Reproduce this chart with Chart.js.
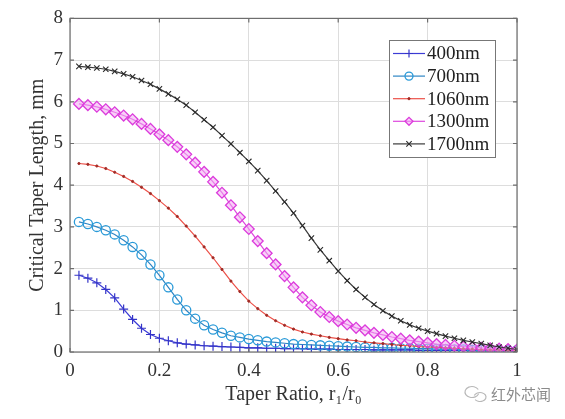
<!DOCTYPE html>
<html>
<head>
<meta charset="utf-8">
<script src="https://cdn.jsdelivr.net/npm/chart.js@4"></script>
<style>
    html, body { margin: 0; padding: 0; background: #fff; }
    #wrap { width: 565px; height: 419px; }
</style>
</head>
<body>
<div id="wrap"><canvas id="chart" width="565" height="419"></canvas></div>
<script>
// Taper ratio r1/r0 (x positions of the markers)
const taperRatio = [
    0.02, 0.04, 0.06, 0.08, 0.10, 0.12, 0.14, 0.16, 0.18, 0.20,
    0.22, 0.24, 0.26, 0.28, 0.30, 0.32, 0.34, 0.36, 0.38, 0.40,
    0.42, 0.44, 0.46, 0.48, 0.50, 0.52, 0.54, 0.56, 0.58, 0.60,
    0.62, 0.64, 0.66, 0.68, 0.70, 0.72, 0.74, 0.76, 0.78, 0.80,
    0.82, 0.84, 0.86, 0.88, 0.90, 0.92, 0.94, 0.96, 0.98, 1.00
];

// Critical taper length, mm
const len400 = [
    1.84, 1.77, 1.66, 1.50, 1.30, 1.03, 0.78, 0.57, 0.42, 0.33,
    0.27, 0.22, 0.19, 0.17, 0.15, 0.14, 0.13, 0.12, 0.11, 0.10,
    0.10, 0.09, 0.09, 0.08, 0.08, 0.08, 0.07, 0.07, 0.07, 0.06,
    0.06, 0.06, 0.06, 0.05, 0.05, 0.05, 0.05, 0.05, 0.04, 0.04,
    0.04, 0.04, 0.04, 0.04, 0.03, 0.03, 0.03, 0.03, 0.03, 0.03
];
const len700 = [
    3.12, 3.07, 3.00, 2.92, 2.82, 2.68, 2.52, 2.33, 2.10, 1.84,
    1.55, 1.26, 1.00, 0.80, 0.64, 0.54, 0.46, 0.39, 0.35, 0.31,
    0.28, 0.25, 0.23, 0.21, 0.19, 0.18, 0.17, 0.16, 0.15, 0.14,
    0.13, 0.12, 0.11, 0.11, 0.10, 0.10, 0.09, 0.09, 0.08, 0.08,
    0.07, 0.07, 0.06, 0.06, 0.05, 0.05, 0.05, 0.04, 0.04, 0.04
];
const len1060 = [
    4.52, 4.50, 4.46, 4.40, 4.31, 4.21, 4.09, 3.95, 3.80, 3.63,
    3.45, 3.25, 3.02, 2.78, 2.52, 2.26, 1.98, 1.70, 1.45, 1.22,
    1.04, 0.88, 0.75, 0.64, 0.55, 0.48, 0.43, 0.39, 0.35, 0.32,
    0.29, 0.27, 0.24, 0.22, 0.20, 0.18, 0.16, 0.15, 0.13, 0.12,
    0.11, 0.10, 0.09, 0.08, 0.07, 0.06, 0.05, 0.05, 0.04, 0.04
];
const len1300 = [
    5.95, 5.92, 5.88, 5.82, 5.75, 5.67, 5.58, 5.47, 5.35, 5.22,
    5.08, 4.92, 4.74, 4.54, 4.32, 4.08, 3.82, 3.52, 3.23, 2.95,
    2.66, 2.37, 2.10, 1.82, 1.55, 1.31, 1.12, 0.96, 0.84, 0.74,
    0.66, 0.58, 0.52, 0.46, 0.41, 0.36, 0.32, 0.28, 0.25, 0.22,
    0.19, 0.17, 0.15, 0.13, 0.12, 0.10, 0.09, 0.08, 0.07, 0.06
];
const len1700 = [
    6.85, 6.83, 6.81, 6.78, 6.73, 6.67, 6.60, 6.51, 6.42, 6.31,
    6.19, 6.06, 5.92, 5.75, 5.57, 5.39, 5.19, 4.99, 4.78, 4.57,
    4.35, 4.11, 3.86, 3.60, 3.33, 3.03, 2.73, 2.45, 2.19, 1.94,
    1.71, 1.50, 1.31, 1.14, 0.99, 0.86, 0.75, 0.65, 0.57, 0.50,
    0.44, 0.38, 0.33, 0.28, 0.24, 0.20, 0.16, 0.12, 0.09, 0.06
];

const seriesLabels = ['400nm', '700nm', '1060nm', '1300nm', '1700nm'];
const xTicks = [0, 0.2, 0.4, 0.6, 0.8, 1];
const yTicks = [0, 1, 2, 3, 4, 5, 6, 7, 8];

const serif = "'Liberation Serif', 'Times New Roman', serif";

function toPoints(values) {
    return values.map((v, i) => ({ x: taperRatio[i], y: v }));
}

const styles = [
    { line: '#3c3cd6', point: '#3434c8', fill: '#3434c8', shape: 'cross', radius: 4.5, pw: 1.2 },
    { line: '#2f86c4', point: '#2a9ad8', fill: 'rgba(255,255,255,0)', shape: 'circle', radius: 4.6, pw: 1.3 },
    { line: '#ec5048', point: '#a02a24', fill: '#a02a24', shape: 'circle', radius: 1.1, pw: 1 },
    { line: '#de48de', point: '#dc3cdc', fill: 'rgba(242,170,242,0.55)', shape: 'rectRot', radius: 5.4, pw: 1.3 },
    { line: '#3a3a3a', point: '#2a2a2a', fill: '#2a2a2a', shape: 'crossRot', radius: 3.8, pw: 1.1 }
];

const allValues = [len400, len700, len1060, len1300, len1700];

const datasets = allValues.map((vals, i) => ({
    label: seriesLabels[i],
    data: toPoints(vals),
    borderColor: styles[i].line,
    borderWidth: 1.2,
    pointStyle: styles[i].shape,
    pointRadius: styles[i].radius,
    pointBorderColor: styles[i].point,
    pointBackgroundColor: styles[i].fill,
    pointBorderWidth: styles[i].pw,
    tension: 0,
    fill: false,
    order: 4 - i
}));

// frame, inner ticks (MATLAB style box)
const framePlugin = {
    id: 'frame',
    afterDatasetsDraw(chart) {
        const { ctx, chartArea: a, scales } = chart;
        ctx.save();
        ctx.strokeStyle = '#6e6e6e';
        ctx.lineWidth = 1.2;
        ctx.strokeRect(a.left, a.top, a.right - a.left, a.bottom - a.top);
        ctx.beginPath();
        xTicks.forEach(t => {
            const x = scales.x.getPixelForValue(t);
            ctx.moveTo(x, a.bottom); ctx.lineTo(x, a.bottom - 4);
            ctx.moveTo(x, a.top); ctx.lineTo(x, a.top + 4);
        });
        yTicks.forEach(t => {
            const y = scales.y.getPixelForValue(t);
            ctx.moveTo(a.left, y); ctx.lineTo(a.left + 4, y);
            ctx.moveTo(a.right, y); ctx.lineTo(a.right - 4, y);
        });
        ctx.stroke();
        ctx.restore();
    }
};

// legend box in the upper right corner
const legendPlugin = {
    id: 'boxLegend',
    afterDraw(chart) {
        const { ctx } = chart;
        const bx = 389, by = 40, bw = 106, bh = 117;
        ctx.save();
        ctx.fillStyle = '#fff';
        ctx.fillRect(bx, by, bw, bh);
        ctx.strokeStyle = '#777';
        ctx.lineWidth = 1;
        ctx.strokeRect(bx + 0.5, by + 0.5, bw, bh);
        ctx.font = '19px ' + serif;
        ctx.textBaseline = 'middle';
        ctx.fillStyle = '#222';
        chart.data.datasets.forEach((ds, i) => {
            const y = by + 13.5 + i * 22.6;
            ctx.strokeStyle = ds.borderColor;
            ctx.lineWidth = 1.2;
            ctx.beginPath();
            ctx.moveTo(bx + 4, y);
            ctx.lineTo(bx + 36, y);
            ctx.stroke();
            ctx.strokeStyle = ds.pointBorderColor;
            ctx.fillStyle = ds.pointBackgroundColor;
            ctx.lineWidth = ds.pointBorderWidth;
            Chart.helpers.drawPoint(ctx, {
                pointStyle: ds.pointStyle,
                radius: Math.min(ds.pointRadius, 4),
                borderWidth: ds.pointBorderWidth,
                rotation: 0
            }, bx + 20, y);
            ctx.fillStyle = '#222';
            ctx.fillText(ds.label, bx + 38, y + 1);
        });
        ctx.restore();
    }
};

// watermark at the bottom right
const markPlugin = {
    id: 'mark',
    afterDraw(chart) {
        const { ctx } = chart;
        ctx.save();
        ctx.strokeStyle = '#b8b8b8';
        ctx.lineWidth = 1.2;
        ctx.beginPath();
        ctx.ellipse(472, 392, 7, 5.5, 0, 0.3, Math.PI * 1.85);
        ctx.stroke();
        ctx.beginPath();
        ctx.ellipse(480, 397, 6, 4.5, 0, Math.PI * 1.1, Math.PI * 2.8);
        ctx.stroke();
        ctx.font = "15px 'Noto Sans CJK SC', sans-serif";
        ctx.fillStyle = '#8a8a8a';
        ctx.textBaseline = 'middle';
        ctx.fillText('红外芯闻', 491, 394);
        ctx.restore();
    }
};

const chart = new Chart(document.getElementById('chart'), {
    type: 'line',
    data: { datasets: datasets },
    options: {
        responsive: false,
        animation: false,
        layout: { padding: { top: 12, right: 48, left: 0, bottom: 0 } },
        plugins: {
            legend: { display: false },
            tooltip: { enabled: false }
        },
        scales: {
            x: {
                type: 'linear',
                min: 0,
                max: 1,
                afterFit: (scale) => { scale.height = 67; },
                afterBuildTicks: (scale) => { scale.ticks = xTicks.map(v => ({ value: v })); },
                grid: { color: '#dddddd', lineWidth: 1, drawTicks: false },
                border: { display: false },
                ticks: {
                    padding: 8,
                    color: '#333',
                    font: { family: serif, size: 19 },
                    maxRotation: 0,
                    callback: (v) => String(v)
                },
                title: {
                    display: true,
                    text: 'Taper Ratio, r\u2081/r\u2080',
                    color: '#333',
                    font: { family: serif, size: 20 },
                    padding: { top: 4, bottom: 12 }
                }
            },
            y: {
                min: 0,
                max: 8,
                afterFit: (scale) => { scale.width = 70; },
                afterBuildTicks: (scale) => { scale.ticks = yTicks.map(v => ({ value: v })); },
                grid: { color: '#dddddd', lineWidth: 1, drawTicks: false },
                border: { display: false },
                ticks: {
                    padding: 7,
                    color: '#333',
                    font: { family: serif, size: 19 }
                },
                title: {
                    display: true,
                    text: 'Critical Taper Length, mm',
                    color: '#333',
                    font: { family: serif, size: 20 },
                    padding: { top: 26, bottom: 0 }
                }
            }
        }
    },
    plugins: [framePlugin, legendPlugin, markPlugin]
});
</script>
</body>
</html>
